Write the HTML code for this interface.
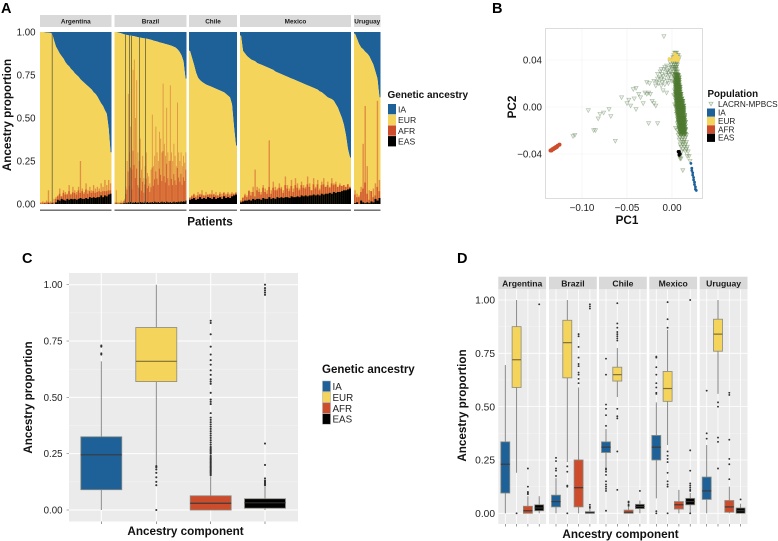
<!DOCTYPE html>
<html lang="en">
<head>
<meta charset="utf-8">
<title>Genetic ancestry figure</title>
<style>
html,body{margin:0;padding:0;background:#fff;width:778px;height:541px;overflow:hidden}
svg{display:block;font-family:"Liberation Sans",sans-serif}
.tick{fill:#222}
.atitle{font-size:11.7px;font-weight:700;fill:#111}
.ltitle{font-weight:700;fill:#111}
.lab{fill:#222}
.plabel{font-size:14.5px;font-weight:700;fill:#000}
</style>
</head>
<body>
<svg id="fig" xmlns="http://www.w3.org/2000/svg" width="778" height="541" viewBox="0 0 778 541">
  <g id="panelA"></g>
  <g id="panelB"></g>
  <g id="panelC"></g>
  <g id="panelD"></g>
  <text class="plabel" x="1" y="13">A</text>
  <text class="plabel" x="492" y="13">B</text>
  <text class="plabel" x="22" y="263">C</text>
  <text class="plabel" x="457" y="263">D</text>
</svg>
<script>
/* ---------- shared categories ---------- */
const components = ["IA", "EUR", "AFR", "EAS"];
const countries = ["Argentina", "Brazil", "Chile", "Mexico", "Uruguay"];
const proportionTicks = [0, 0.25, 0.5, 0.75, 1];
const pc1Ticks = [-0.1, -0.05, 0];
const pc2Ticks = [-0.04, 0, 0.04];

/* ---------- panel A: per-patient ancestry, one array per country ---------- */
const iaArgentina = [0,0,.002,.003,.004,.005,.01,.05,.085,.105,.125,.14,.155,.175,.19,.2,.215,.225,.24,.25,.26,.275,.285,.295,.305,.315,.325,.335,.35,.36,.375,.395,.415,.43,.455,.475,.56,.7];
const easArgentina = [0,0,.002,0,.003,0,.005,0,.01,.025,.02,.03,.025,.02,.03,.025,.03,.028,.03,.025,.03,.035,.03,.03,.035,.03,.04,.035,.04,.035,.04,.04,.05,.04,.05,.045,.055,.06];
const afrArgentina = [.005,.008,.005,.01,.01,.008,.005,.01,.02,.02,.04,.015,.04,.035,.025,.05,.025,.04,.035,.03,.05,.03,.045,.03,.05,.03,.035,.03,.035,.03,.03,.035,.02,.035,.025,.03,.025,.02];
const peakArgentina = [.01,.015,.01,.02,.08,.015,.01,.03,.04,.05,.09,.04,.08,.07,.06,.11,.06,.1,.08,.07,.1,.25,.09,.07,.12,.08,.1,.08,.11,.09,.1,.09,.12,.1,.14,.11,.14,.12];
const iaBrazil = [0,.002,.005,.008,.012,.015,.018,.02,.022,.024,.026,.03,.032,.034,.036,.038,.04,.043,.046,.05,.053,.056,.06,.063,.066,.07,.073,.076,.08,.085,.09,.1,.115,.135,.17,.27];
const easBrazil = [.001,.002,.001,.001,.002,.003,.002,.004,.005,.008,.004,.01,.006,.012,.005,.01,.007,.012,.006,.01,.005,.012,.008,.01,.006,.014,.008,.012,.006,.01,.008,.012,.006,.014,.01,.008,.012,.006,.01,.014,.008,.012,.006,.014,.01,.008,.012,.006,.01,.014,.008,.012,.01,.014,.01,.016,.012,.016,.014,.02];
const afrBrazil = [0,.01,0,0,0,.005,0,.01,.015,.05,.08,.18,.1,.2,.08,.3,.22,.14,.2,.1,.09,.14,.07,.12,.06,.1,.14,.08,.1,.06,.09,.2,.1,.13,.18,.14,.1,.2,.16,.12,.3,.15,.12,.22,.14,.1,.24,.14,.1,.16,.13,.1,.2,.14,.12,.16,.1,.14,.12,.18];
const peakBrazil = [.01,.08,.01,.01,.01,.02,.01,.02,.03,.1,.25,.64,.3,.45,.2,.78,.84,.5,.72,.3,.25,.38,.2,.28,.15,.22,.3,.18,.16,.12,.2,.52,.22,.28,.45,.3,.25,.42,.38,.3,.7,.35,.28,.56,.3,.25,.69,.3,.25,.35,.28,.22,.59,.3,.25,.3,.22,.28,.24,.3];
const iaChile = [.11,.15,.19,.235,.265,.28,.29,.298,.305,.31,.315,.32,.325,.33,.335,.34,.345,.35,.36,.37,.38,.42,.55,.66];
const easChile = [.025,.03,.035,.025,.03,.04,.03,.035,.03,.04,.035,.03,.04,.03,.035,.04,.03,.045,.035,.04,.035,.045,.05,.055];
const afrChile = [.01,.015,.02,.015,.02,.015,.025,.015,.02,.015,.02,.025,.015,.02,.015,.02,.015,.02,.015,.02,.015,.015,.01,.01];
const peakChile = [.04,.05,.06,.05,.07,.06,.08,.05,.07,.05,.06,.08,.06,.07,.05,.07,.06,.07,.06,.07,.06,.07,.06,.07];
const iaMexico = [.02,.11,.125,.14,.15,.16,.165,.17,.18,.185,.19,.195,.2,.205,.21,.215,.22,.23,.235,.24,.245,.25,.255,.26,.265,.27,.275,.28,.285,.29,.295,.3,.305,.31,.315,.32,.325,.33,.335,.345,.35,.36,.37,.38,.385,.39,.4,.42,.44,.47,.5,.54,.6,.68,.73];
const easMexico = [.01,.015,.02,.02,.025,.02,.03,.025,.03,.03,.025,.035,.03,.03,.04,.03,.035,.03,.04,.035,.04,.035,.04,.04,.035,.045,.04,.04,.045,.04,.05,.045,.05,.045,.05,.05,.055,.05,.055,.05,.06,.055,.06,.06,.065,.06,.07,.065,.07,.07,.075,.08,.08,.085,.09];
const afrMexico = [.01,.02,.03,.02,.05,.03,.04,.02,.05,.04,.03,.06,.04,.03,.06,.03,.06,.05,.04,.06,.05,.03,.07,.05,.04,.06,.03,.07,.05,.04,.06,.05,.04,.07,.05,.03,.06,.04,.06,.03,.05,.06,.04,.05,.03,.06,.04,.05,.03,.04,.03,.03,.02,.03,.01];
const peakMexico = [.02,.04,.06,.05,.08,.07,.1,.2,.1,.09,.07,.11,.09,.08,.37,.08,.13,.1,.09,.12,.1,.08,.16,.11,.09,.14,.09,.15,.12,.09,.13,.11,.1,.16,.12,.08,.15,.1,.14,.09,.13,.15,.1,.13,.1,.15,.12,.13,.1,.12,.1,.11,.09,.11,.08];
const iaUruguay = [.01,.04,.07,.09,.1,.115,.125,.14,.165,.19,.23,.27,.38];
const easUruguay = [.005,.01,0,.02,.01,.005,.01,.005,.015,.01,.03,.02,.035];
const afrUruguay = [.05,.03,.04,.05,.08,.12,.05,.02,.06,.03,.02,.08,.04];
const peakUruguay = [.08,.06,.05,.1,.35,.57,.22,.08,.05,.09,.12,.6,.14];
const darkPatientsArgentina = [6];
const darkPatientsBrazil = [5,7,8,12,15];
const darkPatientsChile = [];
const darkPatientsMexico = [];
const darkPatientsUruguay = [];

/* ---------- panel B: PCA coordinates ---------- */
const fanPC1 = [-.009,-.108,-.11,-.063,-.087,-.085,-.093,-.08,-.07,-.076,-.068,-.082,-.026,-.016,-.05,-.046,-.04,-.056,-.048,-.042,-.035,-.037,-.043,-.04,-.03,-.026,-.028,-.024,-.022,-.032,-.02,-.018,-.025,-.017,-.018,-.012,-.02,-.015,-.008,-.012,-.005,-.01,-.016,-.006,-.013,-.009,-.003,-.006,-.001,0,-.003,-.001,-.004,0,-.01,-.006,-.028,0,-.002,.002,-.014,-.011,-.007,-.004,-.002,-.012,-.008,-.005,-.001,-.009,-.004,0,-.016,-.011];
const fanPC2 = [.06,-.024,-.025,-.029,-.02,-.02,-.003,-.006,-.002,-.005,-.008,-.01,-.014,-.014,.003,.001,-.002,.008,.006,.007,.008,.011,.015,.016,.012,.012,.011,.011,.005,.003,.003,.001,.02,.021,.018,.018,.022,.02,.019,.024,.022,.026,.028,.03,.03,.032,.033,.035,.036,.032,.027,.024,.02,.022,.014,.012,.021,.04,.038,.042,.025,.028,.027,.029,.03,.032,.034,.031,.034,.023,.025,.028,.024,.021];
const columnPC2 = [.046,.044,.042,.04,.038,.036,.034,.032,.03,.028,.026,.024,.022,.02,.018,.016,.014,.012,.01,.008,.006,.004,.002,0,-.002,-.004,-.006,-.008,-.01,-.012,-.014,-.016,-.018,-.02,-.022,-.024,-.026,-.028,-.03,-.032,-.034,-.036,-.038,-.042,-.044,-.046,-.054];
const columnPC1 = [
[.003,.005,.004],[.002,.006,.004,.007],[.001,.004,.006,.008],[.002,.004,.007],[.003,.005,.006,.001],[.002,.004,.006],[.001,.004,.005,.003],[.003,.005,.004],[.002,.005,.006,.004],[.001,.004,.006,.005],[.003,.005,.007,.006],[.004,.005,.007,.006],[.004,.006,.007,.005],[.005,.007,.006,.004,.003],[.004,.006,.008,.005,.007],[.005,.007,.006,.008,.004],[.003,.006,.008,.007,.005],[.005,.007,.009,.006,.004],[.002,.006,.008,.005,.007,.009],[.004,.006,.009,.007,.008,.005],[.004,.005,.007,.01,.008,.006,.009],[.005,.006,.008,.01,.007,.009,.011],[.003,.005,.007,.009,.011,.008,.01,.006],[.004,.006,.008,.01,.012,.007,.009,.011,.005],[.005,.006,.008,.01,.012,.009,.011,.007,.013],[.005,.007,.009,.011,.013,.006,.01,.012,.008],[.005,.008,.01,.012,.007,.009,.011,.013,.006],[.006,.008,.01,.012,.014,.009,.011,.007],[.006,.009,.011,.013,.007,.01,.012,.008],[.007,.009,.011,.013,.008,.01,.014],[.006,.008,.01,.012,.014,.009],[.007,.009,.011,.013,.01,.015],[.004,.008,.01,.012,.014,.009],[.006,.009,.011,.013,.015],[.008,.01,.012,.014],[.007,.01,.013,.016],[.009,.012,.015],[.008,.011,.014],[.011,.013,.016],[.009,.012,.015],[.01,.014,.017],[.012,.016],[.011,.015,.018],[.009,.017,.019],[.009,.01],[.02],[.012]
];
const corePC2 = [.027,.025,.023,.021,.019,.017,.015,.013,.011,.009,.007,.005,.003,.001,-.001,-.003,-.005,-.007,-.009,-.011,-.013,-.015,-.017,-.019,-.021,-.023];
const corePC1 = [
[.004,.005,.006,.007],[.003,.005,.006,.008],[.004,.005,.006,.007,.008],[.003,.005,.006,.007,.008],[.004,.005,.006,.007,.008],[.004,.005,.007,.008,.009],[.004,.006,.007,.008,.009],[.004,.005,.006,.007,.008,.009],[.004,.005,.006,.008,.009,.01],[.004,.006,.007,.008,.009,.01],[.005,.006,.007,.008,.009,.01,.011],[.005,.006,.007,.008,.01,.011,.012],[.005,.006,.008,.009,.01,.011,.012],[.005,.007,.008,.009,.01,.011,.012,.013],[.006,.007,.008,.009,.01,.011,.012,.013],[.006,.007,.008,.01,.011,.012,.013],[.006,.008,.009,.01,.011,.012,.013],[.007,.008,.009,.01,.011,.012,.014],[.007,.008,.009,.011,.012,.013,.014],[.007,.009,.01,.011,.012,.013,.014],[.007,.009,.01,.011,.012,.013,.015],[.008,.009,.01,.012,.013,.014],[.008,.01,.011,.012,.013,.014],[.008,.01,.011,.012,.014,.015],[.009,.01,.012,.013,.014],[.009,.011,.012,.014,.015]
];
const iaRefPC1 = [.021,.022,.022,.023,.023,.024,.024,.025,.025,.026,.026,.027];
const iaRefPC2 = [-.048,-.052,-.054,-.056,-.058,-.06,-.062,-.064,-.066,-.068,-.07,-.071];
const eurRefPC1 = [-.003,-.001,.001,.003,.005,.006,.007,.007,.002,.004,.006,.004,.005,.003];
const eurRefPC2 = [.041,.04,.04,.04,.04,.04,.04,.042,.042,.042,.042,.044,.044,.045];
const afrRefPC1 = [-.135,-.134,-.133,-.132,-.131,-.13,-.129,-.128,-.127,-.125];
const afrRefPC2 = [-.037,-.037,-.036,-.036,-.035,-.035,-.034,-.034,-.033,-.032];
const easRefPC1 = [.007,.008,.008,.008,.009];
const easRefPC2 = [-.038,-.038,-.04,-.041,-.04];

/* ---------- panel C: box statistics [IA, EUR, AFR, EAS] ---------- */
const overallQ1 = [.09,.57,0,.008];
const overallMedian = [.245,.66,.03,.032];
const overallQ3 = [.325,.81,.063,.05];
const overallWhiskerLow = [0,.2,0,0];
const overallWhiskerHigh = [.66,1,.15,.105];
const overallOutliersIA = [.69,.695,.725,.73];
const overallOutliersEUR = [0,.11,.125,.145,.165,.18,.19,.195];
const overallOutliersAFR = [.155,.16,.165,.17,.175,.18,.185,.19,.195,.2,.205,.21,.215,.22,.225,.23,.235,.24,.25,.255,.26,.265,.27,.275,.28,.29,.3,.31,.32,.33,.34,.35,.36,.37,.38,.39,.4,.41,.43,.47,.48,.49,.52,.56,.57,.58,.6,.62,.645,.665,.69,.725,.78,.83,.84];
const overallOutliersEAS = [.11,.115,.12,.125,.13,.14,.2,.295,.955,.965,.975,.985,1];

/* ---------- panel D: box statistics per country, each row [IA, EUR, AFR, EAS] ---------- */
const q1Argentina = [.095,.59,0,.012];
const medianArgentina = [.23,.72,.012,.025];
const q3Argentina = [.335,.875,.033,.04];
const lowArgentina = [0,.19,0,0];
const highArgentina = [.695,1,.08,.08];
const outliersArgentina = [[],[0],[.09,.095,.1,.125,.21],[.98]];
const q1Brazil = [.03,.635,.03,0];
const medianBrazil = [.055,.8,.12,.003];
const q3Brazil = [.085,.905,.25,.008];
const lowBrazil = [0,.24,0,0];
const highBrazil = [.165,1,.59,.02];
const outliersBrazil = [[.175,.2,.21,.245,.26],[0,.125,.13,.195,.22],[.61,.63,.65,.66,.69,.7,.73,.78,.83,.84],[.025,.03,.04,.96,.97,.98]];
const q1Chile = [.285,.62,0,.022];
const medianChile = [.31,.65,.005,.032];
const q3Chile = [.335,.685,.015,.042];
const lowChile = [.215,.545,0,0];
const highChile = [.395,.775,.03,.06];
const outliersChile = [[.012,.105,.115,.125,.135,.15,.18,.195,.205,.21,.41,.46,.49,.51,.65,.725],[.11,.29,.445,.455,.49,.81,.82,.83,.84,.85,.87,.89,.985],[.035,.04,.05,.055],[.105]];
const q1Mexico = [.25,.525,.02,.04];
const medianMexico = [.31,.585,.04,.055];
const q3Mexico = [.365,.665,.055,.07];
const lowMexico = [.07,.32,0,0];
const highMexico = [.52,.86,.11,.095];
const outliersMexico = [[0,.01,.56,.565,.59,.61,.65,.685,.73,.735],[0,.125,.135,.15,.19,.24,.255,.27,.29,.87,.91,.99],[],[0,.105,.11,.12,.13,.14,.2,.295,1]];
const q1Uruguay = [.065,.76,.005,0];
const medianUruguay = [.105,.84,.03,.012];
const q3Uruguay = [.17,.91,.06,.025];
const lowUruguay = [0,.56,0,0];
const highUruguay = [.32,1,.125,.045];
const outliersUruguay = [[.35,.375,.575],[.21,.335,.355,.5,.52],[.16,.23,.255,.345,.555,.565],[.065]];

/* ---------- styling ---------- */
const NS = "http://www.w3.org/2000/svg";
const FILL = {IA:"#1e6199", EUR:"#f5d45b", AFR:"#cd4c2c", EAS:"#000000"};
function mk(tag, attrs, parent, txt){
  const e = document.createElementNS(NS, tag);
  for (const k in attrs) e.setAttribute(k, attrs[k]);
  if (txt !== undefined) e.textContent = txt;
  parent.appendChild(e);
  return e;
}
const fmt2 = v => v.toFixed(2).replace("-", "\u2212");

/* ---------- legend ---------- */
function legend(parent, x, titleY, keyY, step, title, boxed, titleSize, labelSize){
  let t = mk("text",{x:x,y:titleY,class:"ltitle",style:`font-size:${titleSize}px`},parent,title);
  
  
  components.forEach((c,i)=>{
    const g = mk("g",{},parent);
    
    
    const r = mk("rect",{x:x+0.5,y:keyY+i*step,width:8,height:step-0.4,fill:FILL[c],stroke:boxed?"#aaa":"none","stroke-width":boxed?0.5:0},g);
    
    
    const l = mk("text",{x:x+10.5,y:keyY+i*step+step/2+labelSize*0.36,class:"lab",style:`font-size:${labelSize}px`},g,c);
    
    
  });
}

/* ---------- panel A ---------- */
(function(){
  const root = document.getElementById("panelA");
  const left = [40,114.5,189,240,354];
  const right = [111.5,186.5,237,351,380.5];
  const top = 32, bottom = 204;
  const sy = v => bottom - v*(bottom-top);
  const iaSets = [iaArgentina,iaBrazil,iaChile,iaMexico,iaUruguay];
  const easSets = [easArgentina,easBrazil,easChile,easMexico,easUruguay];
  const afrSets = [afrArgentina,afrBrazil,afrChile,afrMexico,afrUruguay];
  const peakSets = [peakArgentina,peakBrazil,peakChile,peakMexico,peakUruguay];
  const darkSets = [darkPatientsArgentina,darkPatientsBrazil,darkPatientsChile,darkPatientsMexico,darkPatientsUruguay];
  const drawBar = (parent, x, w, v0, v1, fill, name, op) => {
    const r = mk("rect",{x:x,y:sy(v1),width:w,height:Math.max(0,sy(v0)-sy(v1)),fill:fill,opacity:op},parent);
    
    
  };
  countries.forEach((c,ci)=>{
    const x0 = left[ci], x1 = right[ci];
    const g = mk("g",{},root);
    
    
    const strip = mk("rect",{x:x0,y:15,width:x1-x0,height:12,fill:"#d9d9d9"},g);
    
    
    const st = mk("text",{x:(x0+x1)/2,y:23.5,"text-anchor":"middle","font-size":"6.4px","font-weight":"700",fill:"#1a1a1a"},g,c);
    
    
    const ia = iaSets[ci], eas = easSets[ci], afr = afrSets[ci], peak = peakSets[ci];
    const w = (x1-x0)/ia.length;
    const bx = i => x0+(i+0.5)*w;
    let line = `L${x0} ${sy(1-ia[0])}`;
    ia.forEach((v,i)=>{ line += `L${bx(i)} ${sy(1-v)}`; });
    line += `L${x1} ${sy(1-ia[ia.length-1])}`;
    const blue = mk("path",{d:`M${x0} ${sy(1)}${line}L${x1} ${sy(1)}Z`,fill:FILL.IA},g);
    
    
    const yellow = mk("path",{d:`M${x0} ${sy(0)}${line}L${x1} ${sy(0)}Z`,fill:FILL.EUR},g);
    
    
    const aw = (x1-x0)/afr.length;
    peak.forEach((v,i)=>{
      const e = eas[i]||0, a = afr[i]||0;
      if (v > e+a) drawBar(g,x0+i*aw+aw*0.15,aw*0.7,e+a,v,FILL.AFR,'patient-afr-peak',0.5);
    });
    afr.forEach((v,i)=>{
      const e = eas[i]||0;
      drawBar(g,x0+i*aw,aw*0.85,e,e+v,FILL.AFR,'patient-afr-bar',0.9);
    });
    eas.forEach((v,i)=>{
      drawBar(g,x0+i*aw,aw,0,v,FILL.EAS,'patient-eas-bar',1);
    });
    darkSets[ci].forEach(i=>{
      const l = mk("rect",{x:bx(i)-0.45,y:sy(1-ia[i]),width:0.9,height:sy(0)-sy(1-ia[i]),fill:"#4c4b38",opacity:0.75},g);
      
      
    });
    const u = mk("rect",{x:x0,y:209.5,width:x1-x0,height:1.4,fill:"#666"},g);
    
    
  });
  proportionTicks.forEach(t=>{
    const l = mk("text",{x:35.5,y:sy(t)+3.5,"text-anchor":"end",class:"tick",style:"font-size:9.7px"},root,t.toFixed(2));
    
    
  });
  const yt = mk("text",{transform:"translate(11,115) rotate(-90)","text-anchor":"middle",class:"atitle"},root,"Ancestry proportion");
  
  
  const xt = mk("text",{x:210,y:225.5,"text-anchor":"middle",class:"atitle"},root,"Patients");
  
  
  legend(root,387.5,98,104,10.7,"Genetic ancestry",false,10,8.6);
})();

/* ---------- panel B ---------- */
(function(){
  const root = document.getElementById("panelB");
  const sx = v => 672 + v*900;
  const sy = v => 107 - v*1175;
  const px0=545.5, px1=702.5, py0=28.5, py1=198.5;
  const minor = mk("g",{stroke:"#f1f1f1","stroke-width":0.6},root);
  
  
  pc1Ticks.forEach(t=>{
    const l = mk("line",{x1:sx(t),x2:sx(t),y1:py0,y2:py1},minor);
    
    
    const tx = mk("text",{x:sx(t),y:211,"text-anchor":"middle",class:"tick",style:"font-size:9.8px"},root,fmt2(t));
    
    
  });
  pc2Ticks.forEach(t=>{
    const l = mk("line",{x1:px0,x2:px1,y1:sy(t),y2:sy(t)},minor);
    
    
    const tx = mk("text",{x:542,y:sy(t)+3.5,"text-anchor":"end",class:"tick",style:"font-size:9.8px"},root,fmt2(t));
    
    
  });
  const frame = mk("rect",{x:px0,y:py0,width:px1-px0,height:py1-py0,fill:"none",stroke:"#dcdcdc","stroke-width":1},root);
  
  
  const tri = (x,y,parent,color,fo,so)=>{
    const p = mk("path",{d:`M${x-2.1} ${y-1.8}L${x+2.1} ${y-1.8}L${x} ${y+2}Z`,fill:color,"fill-opacity":fo,stroke:color,"stroke-opacity":so,"stroke-width":0.6},parent);
    
    
  };
  const ptsG = mk("g",{},root);
  
  
  fanPC1.forEach((v,i)=>tri(sx(v),sy(fanPC2[i]),ptsG,"#64855a",0.12,0.5));
  columnPC2.forEach((lvl,i)=>columnPC1[i].forEach(v=>tri(sx(v),sy(lvl),ptsG,"#52793a",0.16,0.45)));
  corePC2.forEach((lvl,i)=>corePC1[i].forEach(v=>tri(sx(v),sy(lvl),ptsG,"#4e7a30",0.6,0.7)));
  const ref = (name,xs,ys,color,rad)=>{
    const g = mk("g",{},root);
    
    
    xs.forEach((v,i)=>{
      const c = mk("circle",{cx:sx(v),cy:sy(ys[i]),r:rad,fill:color},g);
      
      
    });
  };
  ref("ia",iaRefPC1,iaRefPC2,FILL.IA,1.4);
  ref("eur",eurRefPC1,eurRefPC2,FILL.EUR,1.7);
  ref("afr",afrRefPC1,afrRefPC2,FILL.AFR,2);
  ref("eas",easRefPC1,easRefPC2,FILL.EAS,1.6);
  const xt = mk("text",{x:627,y:224,"text-anchor":"middle",class:"atitle"},root,"PC1");
  
  
  const yt = mk("text",{transform:"translate(516,107) rotate(-90)","text-anchor":"middle",class:"atitle"},root,"PC2");
  
  
  const lt = mk("text",{x:707.5,y:97,class:"ltitle",style:"font-size:9.8px"},root,"Population");
  
  
  const lg = mk("g",{},root);
  
  
  tri(711,104,lg,"#64855a",0.12,0.6);
  const ll = mk("text",{x:718,y:107,class:"lab",style:"font-size:8.2px"},lg,"LACRN-MPBCS");
  
  
  components.forEach((c,i)=>{
    const g = mk("g",{},root);
    
    
    const r = mk("rect",{x:707,y:108.5+i*8.4,width:8,height:8.2,fill:FILL[c]},g);
    
    
    const l = mk("text",{x:718,y:115.5+i*8.4,class:"lab",style:"font-size:8.2px"},g,c);
    
    
  });
})();

/* ---------- boxplot drawing shared by C and D ---------- */
function gridPanel(parent, x0, x1, y0, y1, sy, xs, major){
  const bg = mk("rect",{x:x0,y:y0,width:x1-x0,height:y1-y0,fill:"#ebebeb"},parent);
  
  
  proportionTicks.forEach((t,i)=>{
    const h = mk("line",{x1:x0,x2:x1,y1:sy(t),y2:sy(t),stroke:"#fff","stroke-width":major},parent);
    
    
    if (i < proportionTicks.length-1){
      const m = mk("line",{x1:x0,x2:x1,y1:sy(t+0.125),y2:sy(t+0.125),stroke:"#f5f5f5","stroke-width":0.5},parent);
      
      
    }
  });
  xs.forEach(x=>{
    const v = mk("line",{x1:x,x2:x,y1:y0,y2:y1,stroke:"#fff","stroke-width":major},parent);
    
    
    const t = mk("line",{x1:x,x2:x,y1:y1,y2:y1+2.5,stroke:"#555","stroke-width":0.6},parent);
    
    
  });
}
function drawBox(parent, comp, x, w, sy, lo, q1, med, q3, hi, outliers, outR){
  const g = mk("g",{},parent);
  
  
  const wh1 = mk("line",{x1:x,x2:x,y1:sy(hi),y2:sy(q3),stroke:"#7d7d7d","stroke-width":0.9},g);
  
  
  const wh2 = mk("line",{x1:x,x2:x,y1:sy(q1),y2:sy(lo),stroke:"#7d7d7d","stroke-width":0.9},g);
  
  
  const r = mk("rect",{x:x-w/2,y:sy(q3),width:w,height:sy(q1)-sy(q3),fill:FILL[comp],stroke:"#8a8a80","stroke-width":0.8},g);
  
  
  const m = mk("line",{x1:x-w/2,x2:x+w/2,y1:sy(med),y2:sy(med),stroke:comp==="EUR"?"#7c6d3a":(comp==="EAS"?"#333":"#3b3b3b"),"stroke-width":1.2},g);
  
  
  outliers.forEach(o=>{
    const c = mk("circle",{cx:x,cy:sy(o),r:outR,fill:"#333"},g);
    
    
  });
}

/* ---------- panel C ---------- */
(function(){
  const root = document.getElementById("panelC");
  const sy = v => 510 - v*225.3;
  const slot = [101.3,156.3,210.7,265];
  const outs = [overallOutliersIA,overallOutliersEUR,overallOutliersAFR,overallOutliersEAS];
  gridPanel(root,69,298,273,521.5,sy,slot,1);
  components.forEach((c,i)=>drawBox(root,c,slot[i],41,sy,overallWhiskerLow[i],overallQ1[i],overallMedian[i],overallQ3[i],overallWhiskerHigh[i],outs[i],1.05));
  proportionTicks.forEach(t=>{
    const l = mk("text",{x:62.5,y:sy(t)+3.5,"text-anchor":"end",class:"tick",style:"font-size:9.7px"},root,t.toFixed(2));
    
    
    const k = mk("line",{x1:66.5,x2:69,y1:sy(t),y2:sy(t),stroke:"#777","stroke-width":0.6},root);
    
    
  });
  const yt = mk("text",{transform:"translate(32,397.5) rotate(-90)","text-anchor":"middle",class:"atitle"},root,"Ancestry proportion");
  
  
  const xt = mk("text",{x:185.5,y:535,"text-anchor":"middle",class:"atitle"},root,"Ancestry component");
  
  
  legend(root,322,373,381,10.9,"Genetic ancestry",true,11.5,9.8);
})();

/* ---------- panel D ---------- */
(function(){
  const root = document.getElementById("panelD");
  const sy = v => 513.3 - v*213.3;
  const left = [498.3,549,599,649.3,699.7];
  const panelW = 47.8;
  const q1s = [q1Argentina,q1Brazil,q1Chile,q1Mexico,q1Uruguay];
  const meds = [medianArgentina,medianBrazil,medianChile,medianMexico,medianUruguay];
  const q3s = [q3Argentina,q3Brazil,q3Chile,q3Mexico,q3Uruguay];
  const lows = [lowArgentina,lowBrazil,lowChile,lowMexico,lowUruguay];
  const highs = [highArgentina,highBrazil,highChile,highMexico,highUruguay];
  const outs = [outliersArgentina,outliersBrazil,outliersChile,outliersMexico,outliersUruguay];
  countries.forEach((c,ci)=>{
    const x0 = left[ci];
    const g = mk("g",{},root);
    
    
    const strip = mk("rect",{x:x0,y:276.7,width:panelW,height:12.6,fill:"#d9d9d9"},g);
    
    
    const st = mk("text",{x:x0+panelW/2,y:286.3,"text-anchor":"middle","font-size":"8.6px","font-weight":"700",fill:"#1a1a1a"},g,c);
    
    
    const xs = components.map((_,i)=>x0+7+i*11.3);
    gridPanel(g,x0,x0+panelW,289.3,524,sy,xs,0.8);
    components.forEach((k,i)=>drawBox(g,k,xs[i],9,sy,lows[ci][i],q1s[ci][i],meds[ci][i],q3s[ci][i],highs[ci][i],outs[ci][i],0.95));
  });
  proportionTicks.forEach(t=>{
    const l = mk("text",{x:495,y:sy(t)+3.6,"text-anchor":"end",class:"tick",style:"font-size:10.2px"},root,t.toFixed(2));
    
    
  });
  const yt = mk("text",{transform:"translate(466,405.5) rotate(-90)","text-anchor":"middle",class:"atitle"},root,"Ancestry proportion");
  
  
  const xt = mk("text",{x:620.5,y:538,"text-anchor":"middle",class:"atitle"},root,"Ancestry component");
  
  
})();
</script>
</body>
</html>
